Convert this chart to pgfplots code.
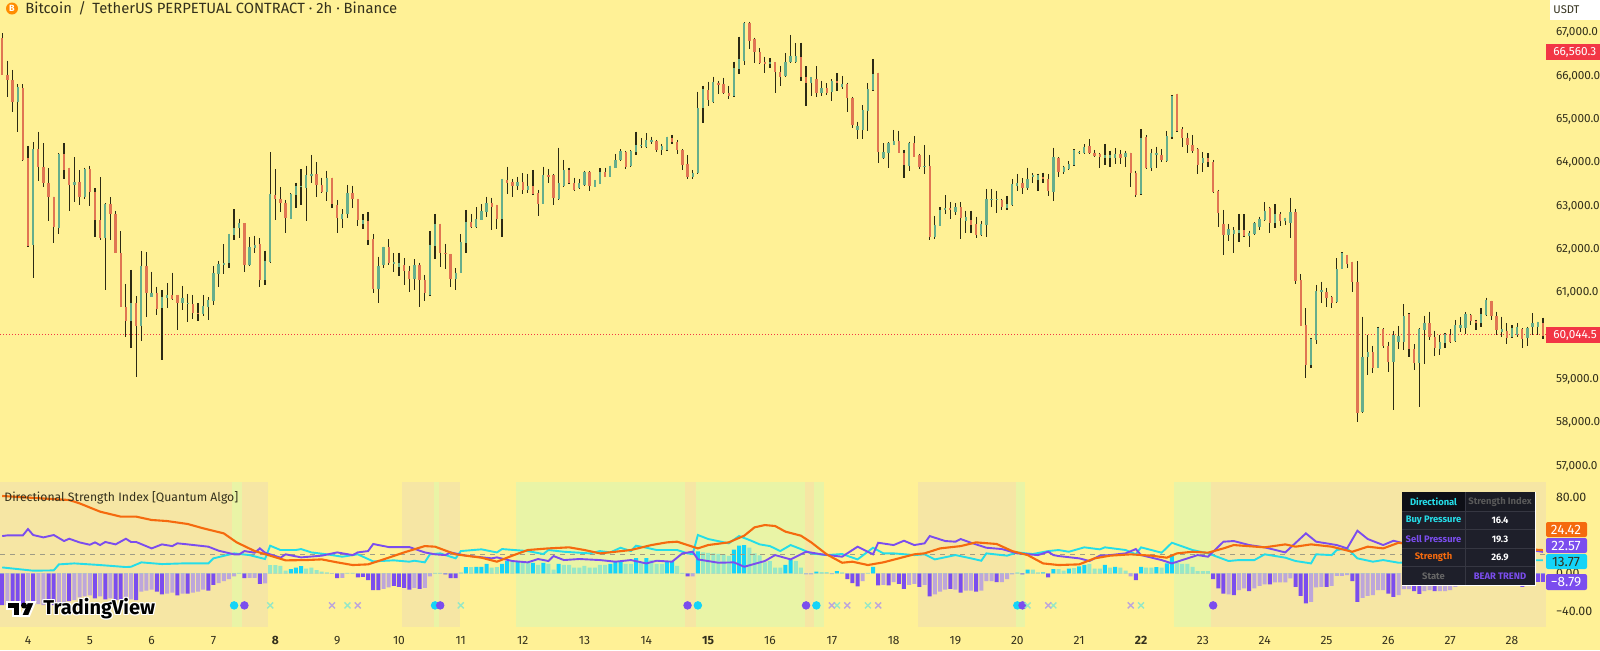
\documentclass[border=0pt]{standalone}
\usepackage{fontspec}
\setmainfont{Fira Sans}
\usepackage{pgfplots}
\usepackage{pgfplotstable}
\pgfplotsset{compat=1.18}
\definecolor{bgc}{HTML}{FFF196}
\definecolor{tan}{HTML}{F6E6A4}
\definecolor{bul}{HTML}{E9F4A6}
\definecolor{upc}{HTML}{66AE8C}
\definecolor{dnc}{HTML}{E07553}
\definecolor{wick}{HTML}{2B2A14}
\definecolor{ora}{HTML}{F56A0E}
\definecolor{pur}{HTML}{7B4DEE}
\definecolor{cya}{HTML}{25DDE8}
\definecolor{pul}{HTML}{BDA6DA}
\definecolor{cyb}{HTML}{14D4F8}
\definecolor{cyl}{HTML}{96E8C6}
\definecolor{txt}{HTML}{33301C}
\definecolor{redt}{HTML}{F23645}
\definecolor{tbA}{HTML}{0E0F16}
\definecolor{tbB}{HTML}{1A1B24}
\definecolor{tbC}{HTML}{1E1F2A}
\definecolor{tbL}{HTML}{363742}
\pgfplotstableread{
i o h l c
0 66870 66985 66024 66024
1 66024 66354 65508 65908
2 65908 66139 65178 65409
3 65409 65808 64701 65739
4 65716 65808 64040 64063
5 64101 64386 62063 62079
6 62102 64470 61348 64317
7 64317 64716 63586 63909
8 63909 64447 63440 63525
9 63525 63871 62656 63202
10 63217 63217 62148 62510
11 62494 64216 62348 64201
12 64201 64447 63624 63832
13 63871 63886 62894 63486
14 63486 64124 63102 63563
15 63563 63824 63025 63217
16 63217 63886 63163 63855
17 63847 63932 63009 63332
18 63332 63409 62294 62679
19 62679 63663 62217 62256
20 62256 63063 61064 63048
21 63048 63202 62217 62817
22 62817 62886 61910 61925
23 61910 62425 60664 60679
24 60679 61202 59987 60356
25 60356 61525 59733 60756
26 60756 60925 59064 60241
27 60241 61963 59895 61617
28 61617 61933 60449 61002
29 60910 61487 60910 61002
30 61002 61140 60487 60618
31 60641 61064 59449 60910
32 60871 61217 60641 60948
33 60948 61463 60833 60856
34 60948 60948 60141 60771
35 60756 61156 60602 60887
36 60741 60971 60333 60771
37 60741 60948 60387 60525
38 60541 60756 60356 60510
39 60510 60948 60464 60695
40 60679 60895 60372 60833
41 60818 61617 60718 61448
42 61433 61740 61140 61663
43 61640 62117 61433 61694
44 61679 62356 61563 62348
45 62332 62925 62217 62486
46 62486 62709 62256 62602
47 62602 62602 61486 61640
48 61640 62279 61625 62048
49 62025 62317 61910 62102
50 62125 62256 61140 61294
51 61294 61971 61179 61740
52 61717 64240 61694 63278
53 63255 63847 62679 63163
54 63163 63432 62871 63078
55 63078 63140 62371 62717
56 62702 63294 62694 63278
57 63255 63540 62963 63463
58 63432 63847 63025 63463
59 63424 63932 62656 63717
60 63694 64178 63525 63740
61 63732 64009 63202 63486
62 63486 63655 63309 63332
63 63332 63817 63117 63655
64 63655 63655 62948 63048
65 63025 63140 62371 62717
66 62702 62925 62502 62809
67 62809 63486 62717 63294
68 63294 63471 62963 63155
69 63163 63163 62540 62679
70 62586 62809 62463 62679
71 62663 62856 62102 62217
72 62233 62356 60987 61094
73 61079 61833 60756 61625
74 61640 62063 61563 62048
75 62048 62233 61640 61679
76 61663 61910 61486 61702
77 61602 61925 61387 61694
78 61640 61794 61179 61510
79 61510 61625 61025 61310
80 61310 61771 61064 61640
81 61640 61694 60679 61294
82 61294 61410 60810 60987
83 60948 62425 60933 62102
84 62079 62817 61779 62586
85 62586 62586 61602 61910
86 61925 62125 61540 61894
87 61894 61894 61140 61310
88 61310 61563 61064 61463
89 61463 62348 61448 62163
90 62156 62909 61910 62640
91 62640 62817 62502 62510
92 62510 62971 62502 62694
93 62679 63040 62679 62894
94 62871 63217 62755 63063
95 63063 63194 62448 62986
96 63025 63025 62463 62702
97 62702 63624 62294 63617
98 63601 63909 63278 63540
99 63563 63624 63217 63463
100 63463 63678 63371 63563
101 63563 63755 63278 63371
102 63371 63740 63309 63463
103 63463 63832 63255 63278
104 63294 63371 62779 63048
105 63048 63909 63048 63717
106 63717 63855 63525 63678
107 63717 63740 63025 63178
108 63155 64347 63140 63525
109 63463 64063 63448 63832
110 63832 63886 63509 63525
111 63540 63655 63355 63371
112 63409 63624 63386 63525
113 63486 63817 63471 63794
114 63794 63809 63355 63463
115 63448 63601 63432 63601
116 63509 63871 63501 63794
117 63794 63886 63678 63678
118 63678 63932 63678 63932
119 63886 64201 63871 64063
120 64063 64309 64047 64278
121 64255 64270 63847 63909
122 63924 64293 63909 64278
123 64255 64716 64178 64409
124 64393 64563 64332 64409
125 64370 64678 64332 64524
126 64486 64601 64424 64524
127 64501 64524 64255 64293
128 64293 64432 64178 64393
129 64293 64601 64278 64586
130 64563 64640 64424 64486
131 64486 64524 64201 64293
132 64293 64309 63832 63947
133 63963 64178 63624 63663
134 63678 63832 63624 63770
135 63755 65639 63740 65255
136 65255 65770 64924 65693
137 65678 65870 65309 65447
138 65409 65985 65386 65870
139 65847 65885 65578 65793
140 65816 65962 65578 65616
141 65616 65770 65462 65539
142 65539 66331 65524 66177
143 66162 66908 66047 66385
144 66354 67246 66254 67231
145 67231 67254 66624 66816
146 66854 66885 66293 66562
147 66562 66639 66270 66293
148 66331 66447 66062 66270
149 66277 66408 66193 66331
150 66316 66316 65601 66101
151 66101 66239 65778 65985
152 66001 66524 65985 66331
153 66316 66947 66293 66462
154 66324 66754 66308 66462
155 66431 66770 65885 65985
156 65985 66231 65316 65832
157 65832 65970 65547 65970
158 65931 66231 65524 65616
159 65616 65893 65547 65716
160 65716 65832 65562 65601
161 65639 65924 65424 65893
162 65893 66062 65662 65832
163 65739 66001 65693 65816
164 65808 65847 65178 65486
165 65486 65524 64793 64870
166 64755 64947 64540 64847
167 64755 65324 64555 65216
168 65201 65832 64724 65693
169 65678 66393 65662 66047
170 66062 66078 64001 64255
171 64101 64447 64078 64255
172 64216 64470 63871 64447
173 64409 64755 64409 64509
174 64501 64739 64232 64232
175 64232 64293 63655 63947
176 63932 64486 63809 64462
177 64447 64616 64124 64140
178 64178 64201 63847 63894
179 63909 64409 63740 63932
180 63924 64178 62217 62294
181 62294 62771 62240 62563
182 62540 62971 62540 62909
183 62909 63247 62817 62948
184 62948 63086 62694 62909
185 62856 63063 62794 62971
186 62971 63086 62240 62717
187 62663 62894 62371 62740
188 62679 62894 62386 62563
189 62586 62755 62256 62332
190 62332 62656 62309 62586
191 62563 63394 62294 63163
192 63140 63386 62971 63163
193 63132 63355 62832 63155
194 63140 63163 62909 62971
195 62948 63232 62909 63048
196 63025 63624 63002 63501
197 63471 63740 63355 63525
198 63525 63640 63278 63409
199 63409 63886 63371 63617
200 63662 63754 63539 63716
201 63601 63739 63355 63716
202 63678 63770 63539 63616
203 63616 63731 63231 63347
204 63331 64346 63124 64123
205 64116 64123 63662 63793
206 63793 63931 63739 63908
207 63847 64039 63831 63962
208 63947 64308 63924 64293
209 64216 64277 64200 64254
210 64216 64423 64200 64370
211 64385 64539 64200 64216
212 64231 64293 64123 64154
213 64193 64216 63870 64139
214 64100 64431 63947 64177
215 64100 64277 63908 64177
216 64100 64331 63962 64200
217 64193 64293 63970 64100
218 64139 64277 63893 64231
219 64216 64231 63447 63754
220 63770 63816 63216 63254
221 63270 64777 63254 64577
222 64600 64631 63847 63870
223 63870 64308 63816 64216
224 64177 64370 63870 64216
225 64177 64308 64023 64062
226 64047 64731 64023 64616
227 64600 65562 64539 65538
228 65577 65592 64716 64731
229 64769 64816 64354 64562
230 64562 64693 64231 64408
231 64408 64639 64231 64270
232 64308 64331 63739 63947
233 63985 64239 63793 64100
234 64100 64216 63908 64023
235 64023 64062 63308 63331
236 63354 63370 62524 62831
237 62585 62908 61870 62332
238 62332 62585 62201 62470
239 62355 62509 61909 62447
240 62385 62816 62162 62447
241 62447 62809 62293 62309
242 62309 62432 62062 62385
243 62355 62624 62332 62600
244 62524 62755 62447 62693
245 62677 63085 62662 62885
246 62962 62985 62385 62601
247 62601 63039 62501 62816
248 62816 62855 62547 62662
249 62662 62732 62562 62716
250 62601 63193 62255 62855
251 62855 62932 61201 61270
252 61293 61424 60232 60240
253 60255 60640 59040 59332
254 59332 59948 59271 59925
255 59909 61178 59809 61047
256 61009 61255 60755 61063
257 61024 61117 60663 60886
258 60894 60925 60640 60755
259 60794 61793 60755 61540
260 61540 61932 61540 61909
261 61870 61870 61563 61663
262 61701 61717 61024 61240
263 61240 61732 58025 58233
264 58241 60448 58233 59525
265 59525 60025 59102 59625
266 59625 59771 59140 59271
267 59271 60217 59256 60178
268 60155 60178 59717 59771
269 59771 59871 59179 59394
270 59394 60117 58294 60025
271 59871 60232 59694 60009
272 59871 60732 59679 60471
273 60501 60525 59525 59694
274 59694 59809 59217 59371
275 59371 60178 58371 60155
276 60140 60471 59356 60294
277 60294 60563 59909 59986
278 59986 60125 59540 59717
279 59694 60025 59563 59871
280 59848 60063 59717 60048
281 60025 60155 59832 59871
282 59886 60371 59871 60256
283 60178 60448 60102 60256
284 60178 60547 60048 60509
285 60486 60509 60255 60355
286 60355 60371 60140 60294
287 60294 60640 60217 60509
288 60486 60886 60463 60832
289 60809 60817 60371 60471
290 60471 60563 60025 60140
291 60102 60448 59986 60155
292 60125 60294 59817 59948
293 59986 60256 59948 60194
294 60025 60294 59986 60217
295 60155 60178 59717 59925
296 59948 60217 59771 60178
297 60217 60525 60025 60294
298 60217 60332 60025 60317
299 60294 60424 59925 60002
}\candles
\pgfplotstableread{
k v d
0 -33 1
1 -33 0
2 -33 1
3 -35 1
4 -33 1
5 -32 0
6 -33 1
7 -32 0
8 -33 0
9 -33 1
10 -33 1
11 -33 0
12 -31 0
13 -29 1
14 -28 0
15 -25 0
16 -24 0
17 -23 0
18 -26 1
19 -24 0
20 -27 1
21 -26 0
22 -28 1
23 -28 1
24 -27 0
25 -27 0
26 -28 1
27 -19 0
28 -18 0
29 -17 0
30 -19 1
31 -22 1
32 -21 0
33 -20 0
34 -23 1
35 -21 0
36 -21 1
37 -20 0
38 -19 0
39 -17 0
40 -18 1
41 -12 1
42 -10 0
43 -8 0
44 -6 0
45 -3 0
46 0.5 0
47 -5 1
48 -4.5 0
49 -4.5 0
50 -10.8 1
51 -10.5 0
52 8.7 0
53 8.7 0
54 8 0
55 3 0
56 4.5 1
57 6 1
58 7.7 1
59 5 0
60 6 0
61 3.5 0
62 2 0
63 1 0
64 -0.3 0
65 -5 1
66 -4.5 0
67 0.5 0
68 0.5 0
69 -4 1
70 -3.5 1
71 -7 1
72 -17.5 1
73 -17.5 1
74 -16 0
75 -14.5 0
76 -13 1
77 -14 1
78 -15 1
79 -17 1
80 -15 0
81 -16 1
82 -15 0
83 -3 0
84 0.5 0
85 0.5 0
86 -1 1
87 -5 1
88 -5 1
89 1 0
90 6.5 1
91 6.5 0
92 7 1
93 7 1
94 10 1
95 6 0
96 6.5 0
97 10 1
98 13 1
99 12 0
100 13 1
101 12 0
102 12 0
103 11 1
104 9 0
105 11 1
106 10 0
107 4 0
108 10 1
109 9 0
110 9 0
111 6 0
112 6 0
113 8 0
114 6 0
115 6 0
116 9 0
117 9 0
118 10 1
119 13 1
120 13 1
121 10 0
122 10 0
123 16 1
124 11 0
125 16 1
126 14 0
127 10 0
128 10 0
129 13 1
130 13 1
131 8 0
132 0.5 0
133 -3 1
134 -3 0
135 23 1
136 22 0
137 21.6 0
138 21 0
139 20.6 0
140 20 0
141 18.5 0
142 25 1
143 29 1
144 29.6 1
145 27 0
146 21 0
147 19 0
148 11.5 0
149 13 0
150 6 0
151 6 0
152 9 1
153 14 1
154 13 0
155 6 0
156 -1 0
157 -1 0
158 2 1
159 1.5 0
160 1.5 0
161 -0.7 0
162 2.5 1
163 1 0
164 -6 1
165 -10 1
166 -13.5 1
167 -8 0
168 0.5 0
169 7 1
170 -12.5 1
171 -12 0
172 -12.5 1
173 -9 0
174 -11 1
175 -16 1
176 -12 0
177 -11 0
178 -14 1
179 -12 0
180 -24 1
181 -22 0
182 -19 0
183 -17 0
184 -16 1
185 -17 0
186 -20 1
187 -18 0
188 -18 0
189 -19 1
190 -18 0
191 -8 0
192 -8 0
193 -9 1
194 -9 0
195 -6 0
196 -1 0
197 1 0
198 -1 1
199 4 1
200 4 0
201 1 0
202 1 1
203 -4 1
204 4.5 1
205 4.5 0
206 3 0
207 5 1
208 5.5 0
209 7.5 1
210 9 1
211 10 0
212 5 0
213 5 0
214 9 1
215 6 0
216 7 1
217 6 0
218 3 0
219 -3 0
220 -7 1
221 7 1
222 6 0
223 6 0
224 6.5 1
225 6 0
226 10.5 1
227 19 1
228 11 0
229 10 0
230 10 0
231 7 0
232 2.5 0
233 2.5 0
234 2.5 0
235 -6 1
236 -15.7 1
237 -21 1
238 -22 0
239 -22.7 1
240 -17.4 0
241 -15.7 0
242 -18.5 1
243 -15.7 0
244 -13 0
245 -11.5 0
246 -11.5 1
247 -9.4 0
248 -9.4 0
249 -9.4 0
250 -5.2 0
251 -14 1
252 -23.4 1
253 -31.4 1
254 -29.6 0
255 -14.6 0
256 -14 0
257 -14 1
258 -13 0
259 -2.4 0
260 -2.4 0
261 -1.7 0
262 -8 1
263 -29.6 1
264 -25.5 0
265 -23.4 0
266 -22.7 0
267 -17.4 0
268 -17.4 0
269 -21 1
270 -24.4 1
271 -22.7 0
272 -16.4 0
273 -16.4 0
274 -18.5 1
275 -21.3 1
276 -18.5 0
277 -17.4 0
278 -18.5 1
279 -18.5 0
280 -18.5 0
281 -17.4 0
282 -14 0
283 -13 0
284 -12 0
285 -11 0
286 -11 0
287 -10 0
288 -10 0
289 -9 0
290 -9 0
291 -9 0
292 -9 0
293 -9 0
294 -10 0
295 -14 1
296 -9 0
297 -9 0
298 -8.8 1
299 -8.79 1
}\hist
\begin{document}
\begin{tikzpicture}[x=0.5pt,y=-0.5pt]
\useasboundingbox (0,0) rectangle (1600,650);
\fill[bgc] (0,0) rectangle (1600,650);
\begin{axis}[
  at={(0pt,-241pt)},anchor=south west,scale only axis,width=773pt,height=241pt,
  xmin=-0.43,xmax=299.6,ymin=56630,ymax=67754,
  axis line style={draw=none},tick style={draw=none},
  xtick=\empty,ytick={57000,58000,59000,61000,62000,63000,64000,65000,66000,67000},
  ytick pos=right,scaled y ticks=false,
  yticklabel style={font=\fontsize{5.9}{7}\selectfont,text=txt,anchor=west,xshift=1.5pt,
    /pgf/number format/.cd,assume math mode=true,fixed,fixed zerofill,precision=1,1000 sep={,}},
]
\addplot[redt,line width=.5pt,densely dotted] coordinates {(-0.43,60044.5)(299.6,60044.5)};
\addplot[draw=none,no markers,error bars/.cd,y dir=minus,y explicit,error mark=none,error bar style={line width=.6pt,color=wick,solid}]
  table[x=i,y=h,y error expr=\thisrow{h}-\thisrow{l}] {\candles};
\addplot[draw=none,no markers,error bars/.cd,y dir=minus,y explicit,error mark=none,error bar style={line width=1.15pt,color=upc,solid}]
  table[x=i,y=c,y error expr={ifthenelse(\thisrow{c}>\thisrow{o},\thisrow{c}-\thisrow{o},0)}] {\candles};
\addplot[draw=none,no markers,error bars/.cd,y dir=minus,y explicit,error mark=none,error bar style={line width=1.15pt,color=dnc,solid}]
  table[x=i,y=o,y error expr={ifthenelse(\thisrow{c}>\thisrow{o},0,\thisrow{o}-\thisrow{c})}] {\candles};
\end{axis}
\begin{axis}[
  at={(0pt,-313.5pt)},anchor=south west,scale only axis,width=773pt,height=72.5pt,
  xmin=-0.43,xmax=299.6,ymin=-56,ymax=95.6,
  axis line style={draw=none},tick style={draw=none},
  xtick={5,17,29,41,53,65,77,89,101,113,125,137,149,161,173,185,197,209,221,233,245,257,269,281,293},
  xticklabels={4,5,6,7,\textbf{8},9,10,11,12,13,14,\textbf{15},16,17,18,19,20,21,\textbf{22},23,24,25,26,27,28},
  xticklabel style={font=\fontsize{6}{7}\selectfont,text=txt,yshift=-1.3pt},
  ytick={-40,0,80},yticklabels={−40.00,0.00,80.00},
  ytick pos=right,
  yticklabel style={font=\fontsize{6.2}{7}\selectfont,text=txt,anchor=west,xshift=1.5pt},
]
% background bands
\addplot[fill=tan,draw=none] coordinates {(-0.43,-56)(44.5,-56)(44.5,95.6)(-0.43,95.6)} --cycle;
\addplot[fill=bul,draw=none] coordinates {(44.5,-56)(46.5,-56)(46.5,95.6)(44.5,95.6)} --cycle;
\addplot[fill=tan,draw=none] coordinates {(46.5,-56)(51.6,-56)(51.6,95.6)(46.5,95.6)} --cycle;
\addplot[fill=tan,draw=none] coordinates {(77.6,-56)(83.8,-56)(83.8,95.6)(77.6,95.6)} --cycle;
\addplot[fill=bul,draw=none] coordinates {(83.8,-56)(84.7,-56)(84.7,95.6)(83.8,95.6)} --cycle;
\addplot[fill=tan,draw=none] coordinates {(84.7,-56)(88.8,-56)(88.8,95.6)(84.7,95.6)} --cycle;
\addplot[fill=bul,draw=none] coordinates {(99.8,-56)(132.6,-56)(132.6,95.6)(99.8,95.6)} --cycle;
\addplot[fill=tan,draw=none] coordinates {(132.6,-56)(134.6,-56)(134.6,95.6)(132.6,95.6)} --cycle;
\addplot[fill=bul,draw=none] coordinates {(134.6,-56)(155.7,-56)(155.7,95.6)(134.6,95.6)} --cycle;
\addplot[fill=tan,draw=none] coordinates {(155.7,-56)(157.5,-56)(157.5,95.6)(155.7,95.6)} --cycle;
\addplot[fill=bul,draw=none] coordinates {(157.5,-56)(159.5,-56)(159.5,95.6)(157.5,95.6)} --cycle;
\addplot[fill=tan,draw=none] coordinates {(177.7,-56)(196.8,-56)(196.8,95.6)(177.7,95.6)} --cycle;
\addplot[fill=bul,draw=none] coordinates {(196.8,-56)(198.5,-56)(198.5,95.6)(196.8,95.6)} --cycle;
\addplot[fill=bul,draw=none] coordinates {(227.5,-56)(234.5,-56)(234.5,95.6)(227.5,95.6)} --cycle;
\addplot[fill=tan,draw=none] coordinates {(234.5,-56)(299.6,-56)(299.6,95.6)(234.5,95.6)} --cycle;
% histogram
\addplot[ybar,bar shift=0pt,bar width=2pt,fill=pur,draw=none] table[x=k,y expr={and(\thisrow{d}==1,\thisrow{v}<0)?\thisrow{v}:0}] {\hist};
\addplot[ybar,bar shift=0pt,bar width=2pt,fill=pul,draw=none] table[x=k,y expr={and(\thisrow{d}==0,\thisrow{v}<0)?\thisrow{v}:0}] {\hist};
\addplot[ybar,bar shift=0pt,bar width=2pt,fill=cyb,draw=none] table[x=k,y expr={and(\thisrow{d}==1,\thisrow{v}>0)?\thisrow{v}:0}] {\hist};
\addplot[ybar,bar shift=0pt,bar width=2pt,fill=cyl,draw=none] table[x=k,y expr={and(\thisrow{d}==0,\thisrow{v}>0)?\thisrow{v}:0}] {\hist};
% dashed level
\addplot[gray!75!bgc,line width=.4pt,dash pattern=on 2.5pt off 2.5pt] coordinates {(-0.43,20)(299.6,20)};
% cyan
\addplot[cya,line width=.95pt] coordinates {(0,6.3)(6,2.9)(10,3.2)(11,9.5)(14,10.5)(19,8.8)(24,6.7)(25,7)(27,11.6)(31,9.8)(35,10.5)(40,10.5)(41,15.8)(45,21)(48,19.2)(51,15.1)(52,29)(54,24.5)(57,24.5)(58,25.5)(60,22)(63,20)(66,17.5)(69,20)(72,12.6)(76,13.7)(79,12.3)(80,13.3)(82,11.6)(83,20)(85,21)(88,15.8)(89,23.4)(93,25.2)(96,22)(97,25.5)(102,23.4)(105,20.3)(106,24.5)(109,22.7)(114,21)(116,23.4)(118,22)(120,26.9)(122,23.4)(123,29)(125,26.9)(127,24.5)(131,24.5)(133,21)(134,20.3)(135,40.2)(137,36)(141,31.5)(143,39.1)(145,35)(147,30.4)(149,28.6)(151,23.4)(153,29.7)(155,25.5)(157,21)(160,19.2)(163,20.3)(166,14.7)(169,26.9)(171,21)(173,21)(177,19.2)(179,20)(181,14.7)(182,15.8)(185,19.2)(188,15.8)(190,13.3)(191,21)(195,18.6)(197,22)(200,20.3)(203,23.4)(205,24.5)(207,22.7)(210,27.3)(213,25.2)(214,27.3)(218,24.5)(220,20)(221,27.3)(225,21.7)(227,32.1)(231,24.5)(234,21)(238,13)(240,14)(243,14)(245,20)(249,16.5)(251,13)(254,10.5)(255,20)(258,19.2)(259,24.5)(261,26.2)(263,15.8)(266,12.3)(268,14)(271,11.2)(276,12)(282,15)(288,12)(294,14)(299,13.77)};
% purple
\addplot[pur,line width=.95pt] coordinates {(0,39.1)(1,39.8)(4,39.8)(5,46.4)(6,40.2)(8,37.7)(10,40.2)(12,33.9)(13,36.3)(15,32.5)(17,30)(18,32.5)(19,29.7)(20,32.9)(22,30.4)(24,36.3)(25,32.9)(26,32.9)(29,26.2)(31,30.4)(33,28.6)(34,31.5)(36,30.4)(40,28)(42,23.8)(45,20)(46,20)(47,23.4)(49,21.7)(50,26.2)(51,21.7)(54,16.5)(55,20)(58,16.8)(62,18.6)(65,22)(68,19.2)(69,22)(71,23.4)(72,30.8)(75,27.6)(79,27.6)(82,22)(84,20)(86,19.2)(87,22)(90,18.6)(95,15.8)(96,16.8)(99,13)(102,11.6)(104,15.1)(106,13)(107,18.2)(109,14)(112,15.1)(116,14)(119,12.3)(122,14)(125,10.5)(127,13.3)(130,12.3)(132,21)(134,22.7)(135,14.7)(139,11.2)(142,11.6)(144,7)(148,13)(150,19.2)(153,14.7)(156,22.7)(159,20)(163,17.5)(166,28)(169,20)(170,32.1)(173,29.7)(175,34.2)(177,29.7)(179,31.5)(180,39.1)(183,33.9)(185,33.2)(186,36)(188,32.1)(191,26.9)(194,25.5)(197,21)(201,19.2)(203,22.7)(204,19.2)(205,18.2)(209,15.8)(211,13)(213,18.6)(215,19.2)(218,21)(220,25.5)(221,19.2)(225,14)(227,10.5)(229,14)(232,19.2)(234,17.5)(237,33.2)(239,33.9)(242,29.7)(245,27.3)(249,22)(253,41.9)(255,33.2)(259,29.7)(261,26.2)(263,44.7)(265,36)(268,29.7)(270,34.2)(272,31.5)(276,30)(280,33)(285,28)(290,30)(295,26)(299,22.57)};
% orange
\addplot[ora,line width=1.05pt] coordinates {(0,81)(6,79)(13,76.8)(15,73.3)(19,64.6)(23,59.4)(26,59.4)(29,55.9)(32,54.8)(36,51.7)(39,47.2)(43,41.9)(45.5,32.5)(49,23.4)(52,18.6)(55,13.7)(59,14)(62,14.7)(65,11.6)(68,8.8)(71,9.5)(74,14.7)(78,22)(82,28.6)(84,28)(88,20)(93,16.5)(96,12.3)(99,18.6)(102,24.5)(106,26.2)(110,27.3)(113,24.5)(116,21)(119,22.7)(122,24.5)(126,29.7)(129,32.5)(131,33.2)(135,26.2)(137,29.7)(141,32.5)(144,39.5)(146,48.2)(148,50.6)(150,49.6)(152,43.7)(155,39.5)(157,32.5)(160,20)(163,11.2)(165,12.3)(168,8.8)(171,11.6)(174,15.8)(177,20)(179,21)(182,26.2)(186,28.6)(189,32.5)(193,30.8)(196,23.4)(199,19.2)(202,10.5)(205,8.8)(209,9.5)(212,15.8)(215,18.6)(219,20)(223,18.6)(226,16.5)(228,21)(231,22.7)(234,21.7)(237,26.2)(239,29.7)(245,27.3)(249,30.4)(251,28)(254,30.4)(258,28)(262,22.7)(265,28)(268,26.2)(271,32.1)(275,29)(280,28)(285,28)(290,27)(299,24.42)};
% signals
\addplot[only marks,mark=*,mark size=1.9pt,cyb,mark options={draw=none}] coordinates {(45,-33.4)(84,-33.4)(135,-33.4)(158,-33.4)(197,-33.4)};
\addplot[only marks,mark=*,mark size=1.9pt,pur,mark options={draw=none}] coordinates {(47,-33.4)(85,-33.4)(133,-33.4)(156,-33.4)(198,-33.4)(235,-33.4)};
\addplot[only marks,mark=x,mark size=2.1pt,cyl,line width=.7pt] coordinates {(52,-33.4)(67,-33.4)(89,-33.4)(162,-33.4)(168,-33.4)(199,-33.4)(204,-33.4)(221,-33.4)};
\addplot[only marks,mark=x,mark size=2.1pt,pul,line width=.7pt] coordinates {(64,-33.4)(69,-33.4)(161,-33.4)(164,-33.4)(170,-33.4)(203,-33.4)(219,-33.4)};
\end{axis}
% title
\fill[orange!90!yellow] (12,8.5) circle[radius=6];
\node[text=white,font=\fontsize{4.5}{5}\selectfont\bfseries] at (12,8.5) {B};
\node[anchor=west,inner sep=0,text=txt,font=\fontsize{7.4}{8}\selectfont] at (25,8.5) {Bitcoin \,/\, TetherUS PERPETUAL CONTRACT · 2h · Binance};
\node[anchor=west,inner sep=0,text=txt,font=\fontsize{6.1}{7}\selectfont] at (4,498) {Directional Strength Index [Quantum Algo]};
% price scale extras
\fill[white] (1550,0) rectangle (1600,20);
\node[anchor=west,inner sep=0,text=txt,font=\fontsize{5.6}{7}\selectfont] at (1553,10) {USDT};
\fill[redt] (1546,44) rectangle (1600,60);
\node[anchor=west,inner sep=0,text=white,font=\fontsize{5.9}{7}\selectfont] at (1553,52) {66,560.3};
\fill[redt] (1546,327) rectangle (1600,343);
\node[anchor=west,inner sep=0,text=white,font=\fontsize{5.9}{7}\selectfont] at (1553,335) {60,044.5};
% oscillator tags
\fill[ora,rounded corners=1pt] (1546,522) rectangle (1587,537);
\node[text=white,font=\fontsize{6.8}{7}\selectfont] at (1566,529.5) {24.42};
\fill[pur,rounded corners=1pt] (1546,538) rectangle (1587,553);
\node[text=white,font=\fontsize{6.8}{7}\selectfont] at (1566,545.5) {22.57};
\fill[cyb,rounded corners=1pt] (1546,554) rectangle (1587,569);
\node[text=txt,font=\fontsize{6.8}{7}\selectfont] at (1566,561.5) {13.77};
\fill[pur,rounded corners=1pt] (1546,574) rectangle (1587,590);
\node[text=white,font=\fontsize{6.8}{7}\selectfont] at (1566,582) {−8.79};
% info table
\fill[white] (1401.5,491.5) rectangle (1535.5,585.5);
\fill[tbC] (1402,492) rectangle (1535,585);
\fill[tbA] (1402,492) rectangle (1465,511);
\fill[tbB] (1465.5,492) rectangle (1535,511);
\foreach \yy in {511,529.5,548,566.5}{\draw[tbL,line width=.25pt] (1402,\yy) -- (1535,\yy);}
\draw[tbL,line width=.25pt] (1465.5,492) -- (1465.5,585);
\def\tf{\fontsize{4.7}{5}\selectfont\bfseries}
\node[text=cya,font=\tf] at (1433.5,501.5) {Directional};
\node[text=gray!70!black,font=\tf] at (1500,501.5) {Strength Index};
\node[text=cya,font=\tf] at (1433.5,520) {Buy Pressure};
\node[text=white,font=\tf] at (1500,520) {16.4};
\node[text=pur,font=\tf] at (1433.5,539) {Sell Pressure};
\node[text=white,font=\tf] at (1500,539) {19.3};
\node[text=ora,font=\tf] at (1433.5,557) {Strength};
\node[text=white,font=\tf] at (1500,557) {26.9};
\node[text=gray!80!black,font=\tf] at (1433.5,576) {State};
\node[text=pur,font=\tf] at (1500,576) {BEAR TREND};
% logo
\fill[black,draw=white,line width=1pt] (7,602) -- (20,602) -- (20,616) -- (13,616) -- (13,609) -- (7,609) -- cycle;
\fill[black,draw=white,line width=1pt] (35,602) -- (29,616) -- (21,616) -- (27,602) -- cycle;
\fill[black] (24,605.5) circle[radius=3];
\foreach \dx/\dy in {-1/0,1/0,0/-1,0/1,-1/-1,1/1,-1/1,1/-1}{
  \node[anchor=west,inner sep=0,text=white,font=\fontsize{10}{12}\selectfont\bfseries] at (43+\dx,609+\dy) {TradingView};
}
\node[anchor=west,inner sep=0,text=black,font=\fontsize{10}{12}\selectfont\bfseries] at (43,609) {TradingView};
\end{tikzpicture}
\end{document}
